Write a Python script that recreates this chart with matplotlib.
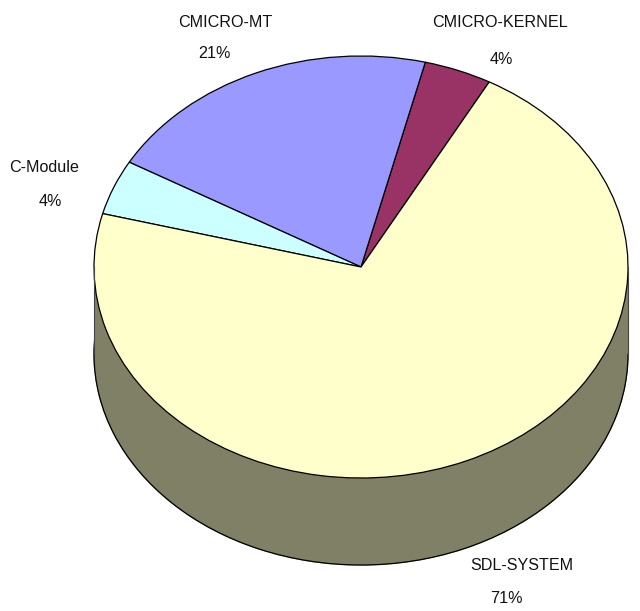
import matplotlib
matplotlib.use('Agg')
import matplotlib.pyplot as plt
from matplotlib.patches import Rectangle

# Slice data, counter-clockwise from the top right
names = ['CMICRO-KERNEL', 'CMICRO-MT', 'C-Module', 'SDL-SYSTEM']
values = [4.1, 20.6, 4.2, 71.1]
percent_labels = ['4%', '21%', '4%', '71%']
colors = ['#993366', '#9999FF', '#CCFFFF', '#FFFFCC']
wall_color = '#808066'

W, H = 640, 611
cx, cy, rx, ry = 361, 267, 267, 211
depth = 87 / ry

plt.rcParams['font.family'] = ['Liberation Sans', 'DejaVu Sans']

fig = plt.figure(figsize=(W / 100, H / 100), dpi=100, facecolor='white')
ax = fig.add_axes([0, 0, 1, 1])

edge = {'edgecolor': 'black', 'linewidth': 0.9}

# side wall: same pie pushed down, a band between, then the top on it
ax.pie(values, colors=[wall_color] * len(values), center=(0, -depth), startangle=61.3,
       counterclock=True, wedgeprops={'edgecolor': wall_color, 'linewidth': 0.9})
ax.pie([1], colors=['none'], center=(0, -depth), wedgeprops=edge)
ax.add_patch(Rectangle((-1, -depth), 2, depth, facecolor=wall_color, edgecolor='none'))
ax.plot([-1, -1], [-depth, 0], color='#444444', lw=0.8)
ax.plot([1, 1], [-depth, 0], color='#444444', lw=0.8)
ax.pie(values, colors=colors, startangle=61.3, counterclock=True, wedgeprops=edge)

# pie() forces equal aspect, the tilted look needs pixels mapped by hand
ax.set_aspect('auto')
ax.set_xlim(-cx / rx, (W - cx) / rx)
ax.set_ylim((cy - H) / ry, cy / ry)


def label(x, y, s):
    fig.text(x / W, 1 - y / H, s, ha='center', va='center', fontsize=11.6, color='#111111')


name_pos = [(500, 22.5), (225, 22.5), (44.5, 167), (522, 565.5)]
pct_pos = [(501.5, 59), (214.5, 53), (50, 202), (506, 598.5)]
for n, p, a, b in zip(names, percent_labels, name_pos, pct_pos):
    label(a[0], a[1], n)
    label(b[0], b[1], p)

fig.savefig('out.png', dpi=100)
